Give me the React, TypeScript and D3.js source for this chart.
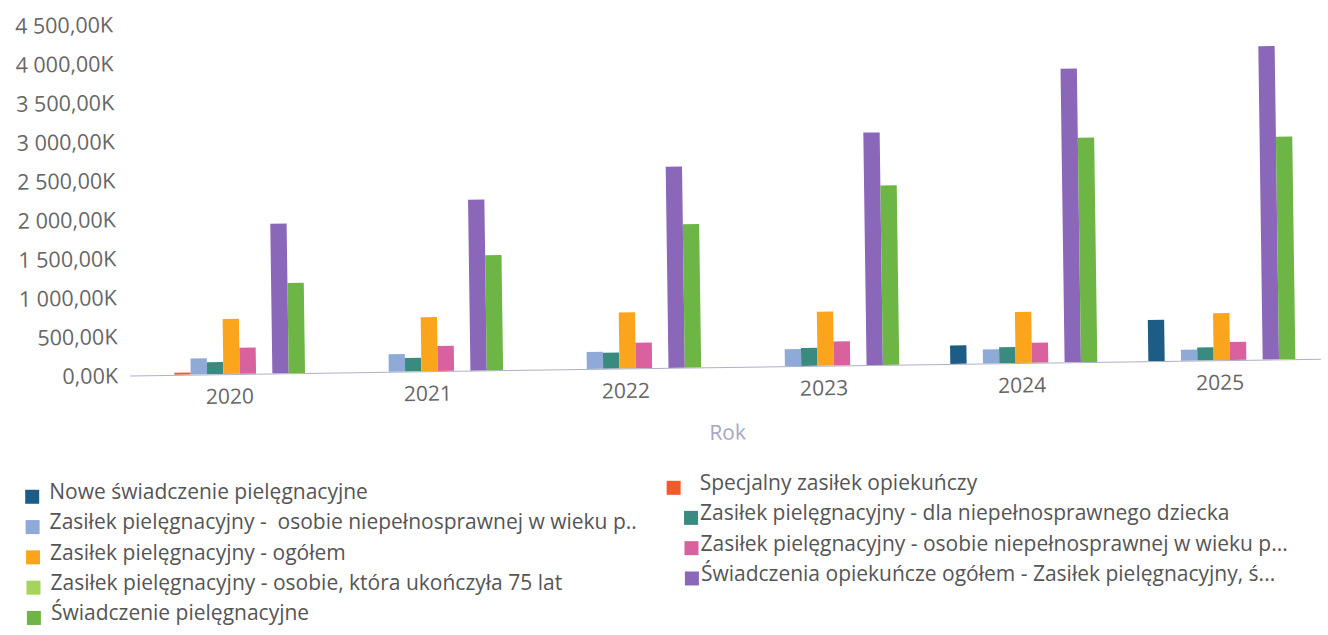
import React from 'react';
import * as d3 from 'd3';

// ---- data (values in thousands) ----
const years = ['2020', '2021', '2022', '2023', '2024', '2025'];

const seriesNames = [
  'Nowe świadczenie pielęgnacyjne',
  'Specjalny zasiłek opiekuńczy',
  'Zasiłek pielęgnacyjny -  osobie niepełnosprawnej w wieku p..',
  'Zasiłek pielęgnacyjny - dla niepełnosprawnego dziecka',
  'Zasiłek pielęgnacyjny - ogółem',
  'Zasiłek pielęgnacyjny - osobie niepełnosprawnej w wieku p...',
  'Zasiłek pielęgnacyjny - osobie, która ukończyła 75 lat',
  'Świadczenia opiekuńcze ogółem - Zasiłek pielęgnacyjny, ś...',
  'Świadczenie pielęgnacyjne',
];

const seriesColors = [
  '#1e5c88',
  '#f15a29',
  '#90aad8',
  '#3a8b7f',
  '#fba51c',
  '#d9619d',
  '#a6d35b',
  '#8b67b9',
  '#6db544',
];

const nowe = [0, 0, 0, 0, 238, 527];
const specjalny = [26, 0, 0, 0, 0, 0];
const zpWiekuA = [205, 226, 218, 218, 180, 141];
const zpDziecka = [155, 175, 206, 231, 206, 167];
const zpOgolem = [707, 694, 720, 694, 655, 604];
const zpWiekuB = [334, 321, 329, 308, 257, 231];
const zp75 = [0, 0, 0, 0, 0, 0];
const opiekOgolem = [1918, 2192, 2579, 2981, 3765, 4018];
const swiadczenie = [1157, 1478, 1838, 2300, 2878, 2853];

const seriesValues = [nowe, specjalny, zpWiekuA, zpDziecka, zpOgolem, zpWiekuB, zp75, opiekOgolem, swiadczenie];

const yTicks = [0, 500, 1000, 1500, 2000, 2500, 3000, 3500, 4000, 4500];
const xTitle = 'Rok';

// ---- layout ----
const W = 1328;
const H = 635;
const ANGLE = -0.8;
const PIVOT: [number, number] = [230, 374];

const plLocale = d3.formatLocale({ decimal: ',', thousands: ' ', grouping: [3], currency: ['', ''] });
const fmt = (v: number) => plLocale.format(',.2f')(v) + 'K';

function rot(px: number, py: number): [number, number] {
  const a = (ANGLE * Math.PI) / 180;
  const dx = px - PIVOT[0];
  const dy = py - PIVOT[1];
  return [PIVOT[0] + dx * Math.cos(a) - dy * Math.sin(a), PIVOT[1] + dx * Math.sin(a) + dy * Math.cos(a)];
}

export default function App() {
  const x = d3.scaleBand<string>().domain(years).range([132.5, 1321]).paddingInner(0.258).paddingOuter(0.129);
  const xs = d3.scaleBand<number>().domain(d3.range(seriesNames.length)).range([0, x.bandwidth()]);
  const y = d3.scaleLinear().domain([0, 4500]).range([374, 23]);

  const font = "'Open Sans', 'Noto Sans', sans-serif";

  return (
    <svg width={W} height={H} style={{ position: 'fixed', left: 0, top: 0, background: '#fff' }}>
      <rect width={W} height={H} fill="#fff" />
      <g transform={`rotate(${ANGLE} ${PIVOT[0]} ${PIVOT[1]})`}>
        {/* y axis labels */}
        {yTicks.map((t) => (
          <text key={t} x={118} y={y(t) + 2} textAnchor="end" dominantBaseline="middle" fontFamily={font} fontSize={21.5} fill="#666">
            {fmt(t)}
          </text>
        ))}
        {/* bars */}
        {years.map((yr, i) => (
          <g key={yr} transform={`translate(${x(yr)},0)`}>
            {seriesValues.map((vals, s) =>
              vals[i] > 0 ? (
                <rect key={s} x={xs(s)} y={y(vals[i])} width={xs.bandwidth()} height={y(0) - y(vals[i])} fill={seriesColors[s]} />
              ) : null
            )}
          </g>
        ))}
        {/* baseline */}
        <line x1={130} x2={1321} y1={y(0) + 0.5} y2={y(0) + 0.5} stroke="#aeb0c8" strokeWidth={1} />
        {/* x labels */}
        {years.map((yr) => (
          <text key={yr} x={(x(yr) as number) + x.bandwidth() / 2 - 2} y={398} textAnchor="middle" dominantBaseline="middle" fontFamily={font} fontSize={21} fill="#666">
            {yr}
          </text>
        ))}
        <text x={(132.5 + 1321) / 2} y={441} textAnchor="middle" dominantBaseline="middle" fontFamily={font} fontSize={21} fill="#a3a7bf">
          {xTitle}
        </text>
      </g>
      {/* legend (anchors follow the tilt, glyphs upright) */}
      {seriesNames.map((name, i) => {
        const col = i % 2;
        const row = Math.floor(i / 2);
        const cy = 494 + row * 30.3;
        const sqX = col === 0 ? 23.5 : row === 0 ? 665 : 682;
        const tx = col === 0 ? 47.5 : 698;
        const [sx, sy] = rot(sqX + 7, cy);
        const [txr] = rot(tx, cy);
        const [, tyr] = rot(tx + 220, cy);
        return (
          <g key={name}>
            <rect x={sx - 7} y={sy - 7} width={14} height={14} fill={seriesColors[i]} />
            <text x={txr} y={tyr} dominantBaseline="middle" fontFamily={font} fontSize={21} fill="#555" style={{ whiteSpace: 'pre' }}>
              {name}
            </text>
          </g>
        );
      })}
    </svg>
  );
}
